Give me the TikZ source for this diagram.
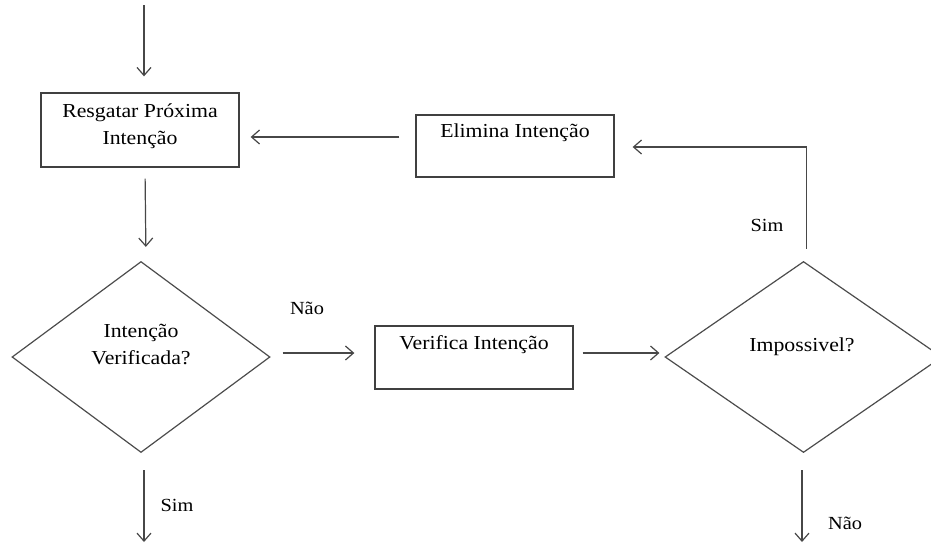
\documentclass[tikz,border=0pt]{standalone}
\usepackage{fontspec}
\setmainfont{Liberation Serif}[FakeStretch=1.1]
\usetikzlibrary{shapes.geometric,arrows.meta}
\tikzset{
  ln/.style={draw=black!72, line width=1.2pt},
  arr/.style={ln, -{Straight Barb[length=8pt,width=14pt,line width=1.2pt]}},
  box/.style={draw=black!75, line width=1.3pt, rectangle, inner sep=0pt},
  dia/.style={draw=black!70, line width=1.2pt, diamond, inner sep=0pt},
  txt/.style={inner sep=0pt, align=center, font=\fontsize{19.8pt}{27pt}\selectfont},
  lbl/.style={inner sep=0pt, font=\fontsize{18.5pt}{20pt}\selectfont}
}
\begin{document}
\begin{tikzpicture}[x=1pt,y=-1pt]
\clip (0,0) rectangle (931,544);
\useasboundingbox (0,0) rectangle (931,544);
% boxes
\node[box, minimum width=198pt, minimum height=74pt] (b1) at (140,130) {};
\node[txt] (b1t) at (140,126.5) {Resgatar Próxima\\Intenção};
\node[box, minimum width=198pt, minimum height=62pt] (b2) at (515,146) {};
\node[txt] (b2t) at (515,133) {Elimina Intenção};
\node[box, minimum width=198pt, minimum height=63pt] (b3) at (474,357.5) {};
\node[txt] (b3t) at (474,345) {Verifica Intenção};
% diamonds
\node[dia, minimum width=258pt, minimum height=191pt] (d1) at (141,357) {};
\node[txt] (d1t) at (141,344) {Intenção\\Verificada?};
\node[dia, minimum width=277pt, minimum height=191pt] (d2) at (803.5,357) {};
\node[txt] (d2t) at (802,347) {Impossivel?};
% labels
\node[lbl] (l1) at (307,308) {Não};
\node[lbl] (l2) at (767,225) {Sim};
\node[lbl] (l3) at (177,505) {Sim};
\node[lbl] (l4) at (845,523) {Não};
% free ends
\coordinate (top) at (144,5);
\coordinate (end1) at (144,542);
\coordinate (end2) at (802,542);
% connectors
\draw[arr, shorten >=16pt] (top) -- (top |- b1.north);
\draw[arr, shorten <=11pt, shorten >=14pt] ([xshift=5pt]b1.south) -- ([xshift=5pt]d1.north);
\draw[arr, shorten <=12pt, shorten >=20pt] ([yshift=4pt]d1.east) -- ([yshift=4pt]d1.east -| b3.west);
\draw[arr, shorten <=9pt, shorten >=5pt] ([yshift=4.5pt]b3.east) -- ([yshift=4.5pt]b3.east -| d2.west);
\draw[arr, shorten <=12pt, shorten >=18pt] ([xshift=3pt]d2.north) |- ([yshift=-1pt]b2.east);
\draw[arr, shorten <=16pt, shorten >=11pt] ([yshift=9pt]b2.west) -- ([yshift=9pt]b2.west -| b1.east);
\draw[arr, shorten <=17pt] ([xshift=3pt]d1.south) -- (end1);
\draw[arr, shorten <=17pt] ([xshift=-1.5pt]d2.south) -- (end2);
\end{tikzpicture}
\end{document}
